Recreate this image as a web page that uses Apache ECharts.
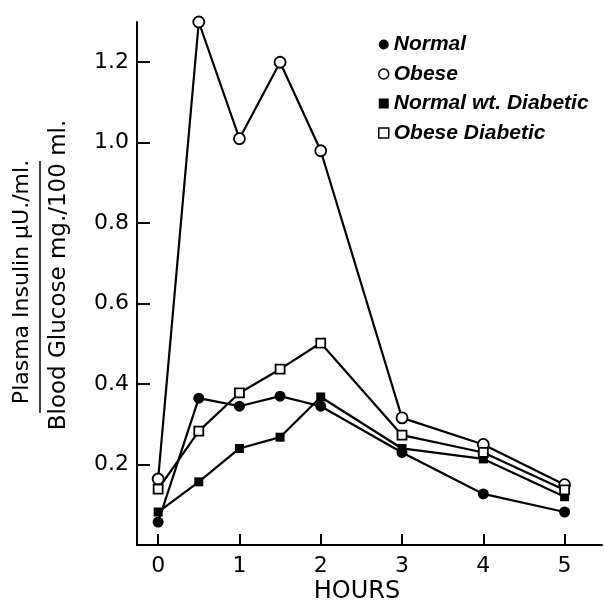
<!DOCTYPE html>
<html>
<head>
<meta charset="utf-8">
<script src="https://cdn.jsdelivr.net/npm/echarts@6/dist/echarts.min.js"></script>
<style>
  html, body { margin: 0; padding: 0; background: #fff; }
  #chart { width: 604px; height: 604px; }
</style>
</head>
<body>
<div id="chart"></div>
<script>
// hours after glucose load
var hours = [0, 0.5, 1, 1.5, 2, 3, 4, 5];
var xTicks = [0, 1, 2, 3, 4, 5];
var yTicks = [0.2, 0.4, 0.6, 0.8, 1.0, 1.2];

// insulin / glucose ratio
var normal = [0.057, 0.365, 0.345, 0.37, 0.345, 0.23, 0.127, 0.082];
var obese = [0.164, 1.30, 1.01, 1.20, 0.98, 0.316, 0.25, 0.15];
var normalWtDiabetic = [0.082, 0.157, 0.24, 0.268, 0.368, 0.24, 0.214, 0.12];
var obeseDiabetic = [0.139, 0.283, 0.378, 0.437, 0.502, 0.273, 0.23, 0.137];

var seriesNames = ['Normal', 'Obese', 'Normal wt. Diabetic', 'Obese Diabetic'];

function pts(vals) {
  return hours.map(function (h, i) { return [h, vals[i]]; });
}

function mkSeries(name, vals, symbol, size, filled, z) {
  return {
    name: name,
    type: 'line',
    data: pts(vals),
    symbol: symbol,
    symbolSize: size,
    showAllSymbol: true,
    z: z,
    lineStyle: { color: '#000', width: 2.2 },
    itemStyle: {
      color: filled ? '#000' : '#fff',
      borderColor: '#000',
      borderWidth: filled ? 0 : 1.8
    },
    emphasis: { disabled: true }
  };
}

var myChart = echarts.init(document.getElementById('chart'));
var option = {
  backgroundColor: '#fff',
  animation: false,
  grid: { left: 137, right: 2, top: 22, bottom: 59 },
  legend: {
    orient: 'vertical',
    left: 373,
    top: 29,
    itemWidth: 10,
    itemHeight: 10,
    itemGap: 8.5,
    textStyle: {
      color: '#000',
      fontFamily: 'Liberation Sans',
      fontStyle: 'italic',
      fontWeight: 'bold',
      fontSize: 21
    },
    data: [
      { name: seriesNames[0], icon: 'circle', itemStyle: { color: '#000', borderWidth: 0 } },
      { name: seriesNames[1], icon: 'circle', itemStyle: { color: '#fff', borderColor: '#000', borderWidth: 1.5 } },
      { name: seriesNames[2], icon: 'rect', itemStyle: { color: '#000', borderWidth: 0 } },
      { name: seriesNames[3], icon: 'rect', itemStyle: { color: '#fff', borderColor: '#000', borderWidth: 1.5 } }
    ]
  },
  xAxis: {
    type: 'value',
    min: -0.26,
    max: 5.46,
    splitLine: { show: false },
    axisLine: { onZero: false, lineStyle: { color: '#000', width: 2 } },
    axisTick: { inside: true, length: 11, customValues: xTicks, lineStyle: { color: '#000', width: 2 } },
    axisLabel: {
      customValues: xTicks,
      margin: 10,
      color: '#000',
      fontFamily: 'DejaVu Sans',
      fontSize: 22
    }
  },
  yAxis: {
    type: 'value',
    min: 0,
    max: 1.3,
    splitLine: { show: false },
    axisLine: { onZero: false, lineStyle: { color: '#000', width: 2 } },
    axisTick: { inside: true, length: 13, customValues: yTicks, lineStyle: { color: '#000', width: 2 } },
    axisLabel: {
      customValues: yTicks,
      margin: 8,
      color: '#000',
      fontFamily: 'DejaVu Sans',
      fontSize: 22,
      formatter: function (v) { return v.toFixed(1); }
    }
  },
  graphic: [
    {
      type: 'text', x: 22, y: 282, rotation: Math.PI / 2,
      style: {
        text: 'Plasma Insulin \u03bcU./ml.',
        fill: '#000', font: '22px "DejaVu Sans"',
        textAlign: 'center', textVerticalAlign: 'middle'
      }
    },
    {
      type: 'line',
      shape: { x1: 40, y1: 161, x2: 40, y2: 413 },
      style: { stroke: '#000', lineWidth: 1.5 }
    },
    {
      type: 'text', x: 59, y: 275, rotation: Math.PI / 2,
      style: {
        text: 'Blood Glucose mg./100 ml.',
        fill: '#000', font: '23px "DejaVu Sans"',
        textAlign: 'center', textVerticalAlign: 'middle'
      }
    },
    {
      type: 'text', x: 357, y: 592,
      style: {
        text: 'HOURS',
        fill: '#000', font: '24px "DejaVu Sans"',
        textAlign: 'center', textVerticalAlign: 'middle'
      }
    }
  ],
  series: [
    mkSeries(seriesNames[0], normal, 'circle', 11, true, 3),
    mkSeries(seriesNames[1], obese, 'circle', 11, false, 4),
    mkSeries(seriesNames[2], normalWtDiabetic, 'rect', 9, true, 3),
    mkSeries(seriesNames[3], obeseDiabetic, 'rect', 9, false, 4)
  ]
};
myChart.setOption(option);

window.addEventListener('resize', function () {
  myChart.resize();
});
</script>
</body>
</html>
